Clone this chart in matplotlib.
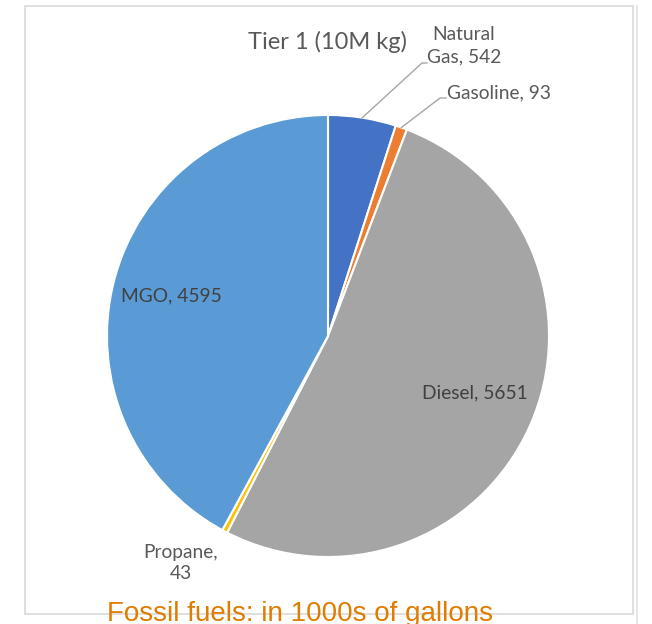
import numpy as np
import matplotlib
matplotlib.use("Agg")
import matplotlib.pyplot as plt
from matplotlib.patches import Rectangle

# data
fuels = ["Natural Gas", "Gasoline", "Diesel", "Propane", "MGO"]
amounts = [542, 93, 5651, 43, 4595]
colors = ["#4472C4", "#ED7D31", "#A5A5A5", "#FFC000", "#5B9BD5"]
title = "Tier 1 (10M kg)"
footer = "Fossil fuels: in 1000s of gallons"

W, H = 652, 624
label_font = ["Lato", "DejaVu Sans"]
text_col = "#595959"
lab_size = 13.8


def Y(y):
    # pixel row (from top) -> data y
    return H - y


fig = plt.figure(figsize=(W / 100, H / 100), dpi=100)
ax = fig.add_axes([0, 0, 1, 1])

# chart frame
ax.add_patch(Rectangle((25, Y(614)), 633 - 25, 614 - 6, fill=False,
                       edgecolor="#D9D9D9", lw=1.2))
ax.plot([637, 637], [0, Y(6)], color="#E3E3E3", lw=1.2)

cx, cy, r = 328, Y(336), 221
wedges, _ = ax.pie(amounts, colors=colors, startangle=90, counterclock=False,
                   center=(cx, cy), radius=r,
                   wedgeprops=dict(edgecolor="white", linewidth=1.5))
ax.set_xlim(0, W)
ax.set_ylim(0, H)
ax.set_aspect("equal")
ax.axis("off")


def edge_point(w, frac=1.0):
    a = np.deg2rad((w.theta1 + w.theta2) / 2)
    return cx + frac * r * np.cos(a), cy + frac * r * np.sin(a)


ax.text(328, Y(42), title, ha="center", va="center", fontsize=17,
        family=label_font, color=text_col)

# Natural gas label with leader
x0, y0 = edge_point(wedges[0])
ax.plot([x0, 422, 427], [y0, Y(63), Y(63)], color="#A6A6A6", lw=1)
ax.text(464, Y(46), "Natural\nGas, " + str(amounts[0]), ha="center", va="center",
        fontsize=lab_size, family=label_font, color=text_col, linespacing=1.4)

# Gasoline label with leader
x1, y1 = edge_point(wedges[1])
ax.plot([x1, 440, 446], [y1, Y(98), Y(98)], color="#A6A6A6", lw=1)
ax.text(447, Y(93), "Gasoline, " + str(amounts[1]), ha="left", va="center",
        fontsize=lab_size, family=label_font, color=text_col)

ax.text(475, Y(393), "Diesel, " + str(amounts[2]), ha="center", va="center",
        fontsize=lab_size, family=label_font, color="#404040")
ax.text(181, Y(563), "Propane,\n" + str(amounts[3]), ha="center", va="center",
        fontsize=lab_size, family=label_font, color=text_col, linespacing=1.3)
ax.text(171, Y(296), "MGO, " + str(amounts[4]), ha="center", va="center",
        fontsize=lab_size, family=label_font, color="#404040")

ax.text(107, Y(621), footer, ha="left", va="baseline", fontsize=20,
        family=["Liberation Sans", "DejaVu Sans"], color="#E07C00")

fig.savefig("out.png", dpi=100)
